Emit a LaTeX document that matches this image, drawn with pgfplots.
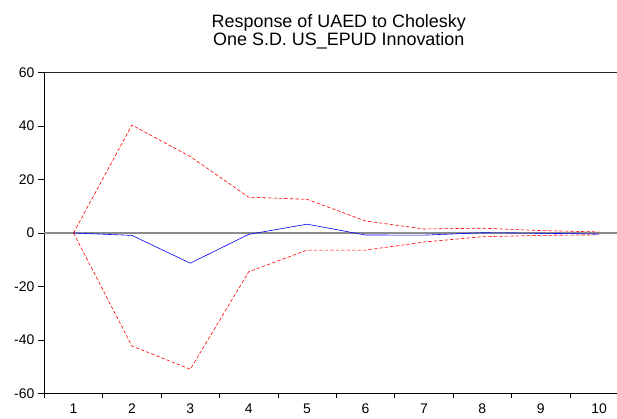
\documentclass[border=0pt]{standalone}
\usepackage{pgfplots}
\pgfplotsset{compat=1.18}
\usepackage{fontspec}
\setmainfont{Liberation Sans}
\begin{document}
\begin{tikzpicture}[x=1bp,y=1bp]
\useasboundingbox (-44.3bp,-25.7bp) rectangle (572.7bp,393.3bp);
\begin{axis}[
  at={(0,0)}, anchor=south west,
  scale only axis,
  width=572.7bp, height=320.6bp,
  xmin=0.5, xmax=10.306,
  ymin=-60, ymax=60,
  axis x line*=bottom, axis y line*=left,
  axis line style={black, line width=0.9pt},
  xtick={1,...,10},
  major x tick style={draw=none},
  minor xtick={0.5,1.5,...,9.5},
  minor tick length=5bp,
  minor x tick style={black, line width=0.7pt},
  ytick={-60,-40,...,60},
  major tick length=6bp,
  tick align=outside,
  ytick style={black, line width=0.7pt},
  tick label style={font=\fontsize{14}{16}\selectfont},
  /pgf/number format/assume math mode=true,
  yticklabel style={xshift=-0.5bp},
  xticklabel style={yshift=-1bp},
  clip=false,
]
\draw[line width=1.4pt, black!85] (rel axis cs:0,1) -- (rel axis cs:1,1);
\draw[line width=1.6pt, gray!90] (axis cs:0.5,0) -- (axis cs:10.306,0);
\addplot[red, dashed, line width=0.6pt, dash pattern=on 3.5pt off 2pt] coordinates {
(1,0) (2,40.4) (3,28.6) (4,13.4) (5,12.6) (6,4.5) (7,1.5) (8,1.8) (9,0.9) (10,0.4)};
\addplot[red, dashed, line width=0.6pt, dash pattern=on 3.5pt off 2pt] coordinates {
(1,0) (2,-42.3) (3,-51.0) (4,-14.5) (5,-6.4) (6,-6.4) (7,-3.4) (8,-1.4) (9,-0.9) (10,-0.7)};
\addplot[blue, line width=0.6pt] coordinates {
(1,0) (2,-0.9) (3,-11.3) (4,-0.5) (5,3.3) (6,-0.75) (7,-0.8) (8,0.1) (9,-0.1) (10,-0.4)};
\end{axis}
\node[font=\fontsize{18}{18}\selectfont, anchor=base] at (294.5bp,365.6bp) {Response of UAED to Cholesky};
\node[font=\fontsize{18}{18}\selectfont, anchor=base] at (294.5bp,347.6bp) {One S.D. US\_EPUD Innovation};
\end{tikzpicture}
\end{document}
